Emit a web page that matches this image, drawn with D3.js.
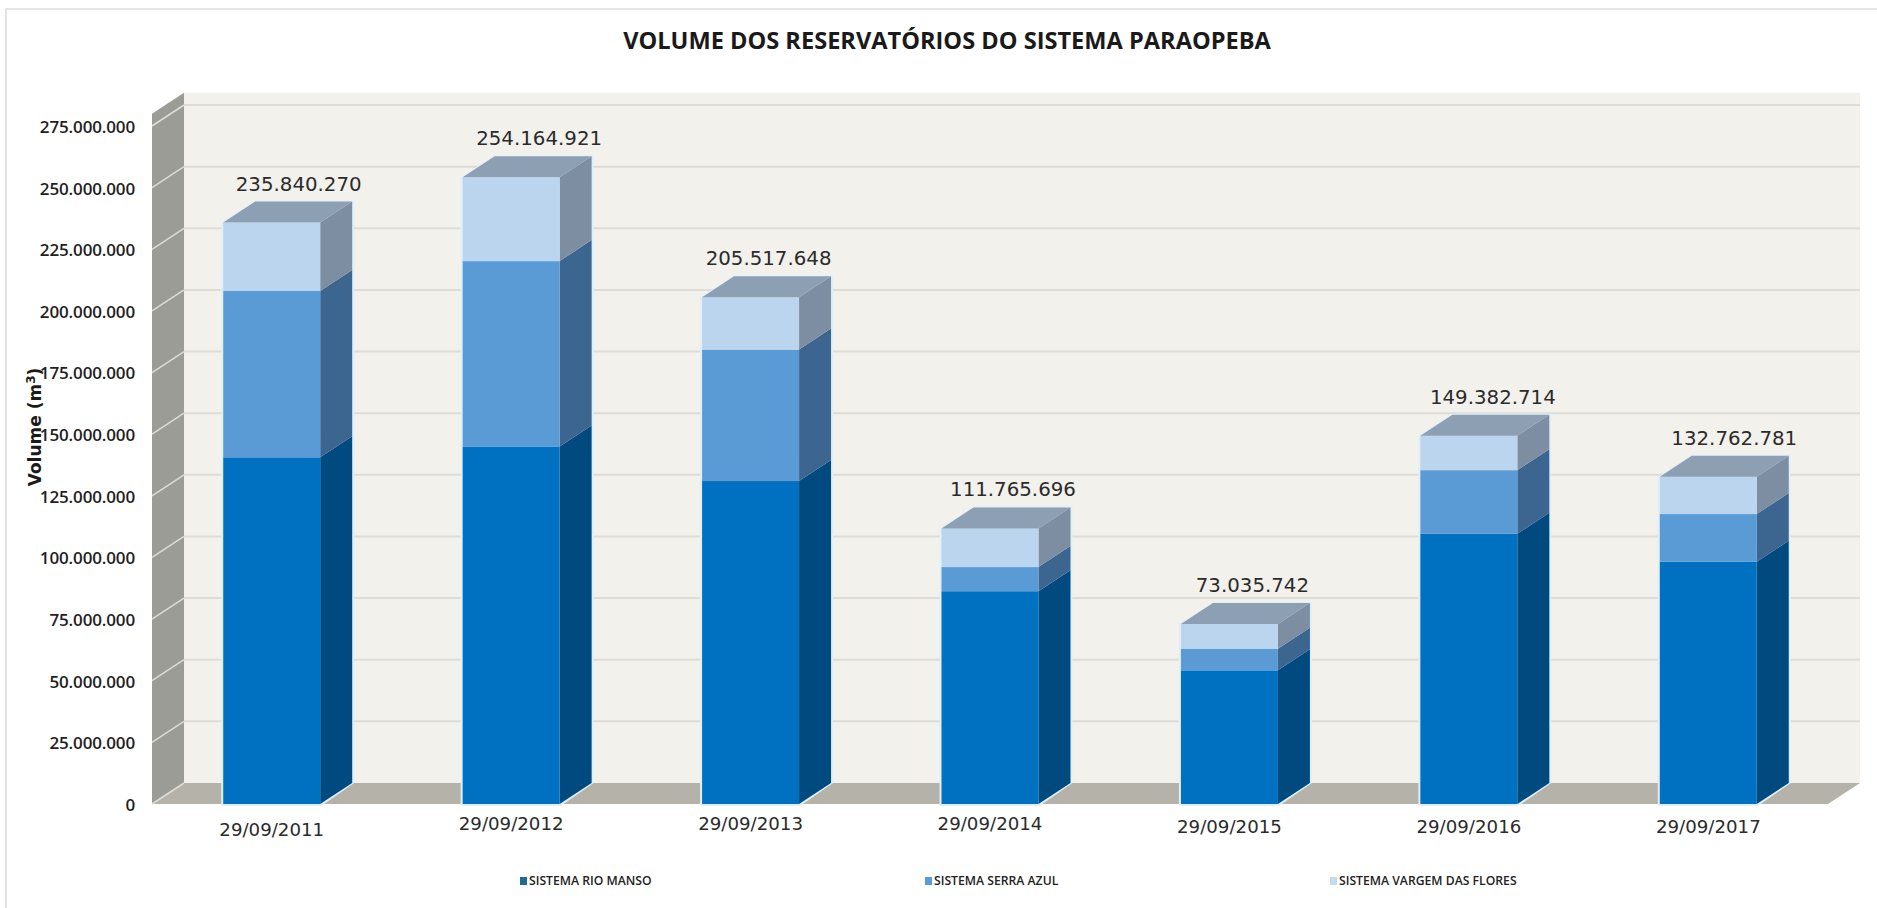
<!DOCTYPE html>
<html><head><meta charset="utf-8">
<script src="https://cdn.jsdelivr.net/npm/d3@7/dist/d3.min.js"></script>
<style>html,body{margin:0;padding:0;background:#fff;overflow:hidden}svg{display:block}</style>
</head><body><svg id="c" width="1877" height="908"></svg>
<script>
const titleText = "VOLUME DOS RESERVATÓRIOS DO SISTEMA PARAOPEBA";
const dates = ["29/09/2011","29/09/2012","29/09/2013","29/09/2014","29/09/2015","29/09/2016","29/09/2017"];
const seriesNames = ["SISTEMA RIO MANSO","SISTEMA SERRA AZUL","SISTEMA VARGEM DAS FLORES"];
const rioManso = [140600000,145000000,131000000,86300000,54200000,109600000,98300000];
const serraAzul = [67500000,75200000,53300000,9800000,8800000,25800000,19300000];
const vargemFlores = [27740270,33964921,21217648,15665696,10035742,13982714,15162781];
const totals = [235840270,254164921,205517648,111765696,73035742,149382714,132762781];
const tickValues = d3.range(0,275000001,25000000);

const frontColors = ["#0070c0","#5b9bd5","#bcd5ee"];
const sideColors  = ["#004a80","#3c668f","#7d8ea3"];
const topColor = "#8c9fb3";
const legendColors = ["#1f6a96","#5b9bd5","#c5dcef"];
const dx = 32, dy = -21;
const x0 = 152, x1 = 1828, yZero = 804, y275 = 126;

const svg = d3.select("#c");
const y = d3.scaleLinear().domain([0,275000000]).range([yZero,y275]);
const x = d3.scaleBand().domain(dates).range([x0,x1]).paddingInner(0.595).paddingOuter(0.2975);
const yMax = 280000000;
const fmt = d3.formatLocale({decimal:",",thousands:".",grouping:[3],currency:["",""]}).format(",d");
const poly = pts => "M"+pts.map(p=>p.join(",")).join("L")+"Z";

// frame
svg.append("path").attr("d","M6,908V9H1877").attr("fill","none").attr("stroke","#dcdcdc").attr("stroke-width",1.5);

// walls
svg.append("path").attr("d",poly([[x0+dx,y(yMax)+dy],[x1+dx,y(yMax)+dy],[x1+dx,yZero+dy],[x0+dx,yZero+dy]])).attr("fill","#f2f1ec");
svg.append("path").attr("d",poly([[x0,y(yMax)],[x0+dx,y(yMax)+dy],[x0+dx,yZero+dy],[x0,yZero]])).attr("fill","#9c9c96");
svg.append("path").attr("d",poly([[x0,yZero],[x0+dx,yZero+dy],[x1+dx,yZero+dy],[x1,yZero]])).attr("fill","#b5b2aa");

// gridlines
svg.append("g").selectAll("line").data(tickValues.slice(1)).join("line")
  .attr("x1",x0+dx).attr("x2",x1+dx).attr("y1",d=>y(d)+dy).attr("y2",d=>y(d)+dy)
  .attr("stroke","#dddcd6").attr("stroke-width",2);
svg.append("g").selectAll("line").data(tickValues).join("line")
  .attr("x1",x0).attr("x2",x0+dx).attr("y1",d=>y(d)).attr("y2",d=>y(d)+dy)
  .attr("stroke","#dcdcd8").attr("stroke-width",1.5);

// bars
const rows = dates.map((d,i)=>({date:d,a:rioManso[i],b:serraAzul[i],c:vargemFlores[i]}));
const stacked = d3.stack().keys(["a","b","c"])(rows);
const barG = svg.append("g");
rows.forEach((r,i)=>{
  const g = barG.append("g"), L = x(r.date), W = x.bandwidth(), R = L+W;
  const top = y(stacked[2][i][1]);
  g.append("path").attr("d",poly([[L-2,yZero+2],[L-2,top],[L+dx,top+dy-1],[R+dx+2,top+dy-1],[R+dx+2,yZero+dy],[R+1,yZero+2]])).attr("fill","#dff0fb");
  stacked.forEach((s,k)=>{
    const t = y(s[i][1]), b = y(s[i][0]);
    g.append("path").attr("d",poly([[R,b],[R+dx,b+dy],[R+dx,t+dy],[R,t]])).attr("fill",sideColors[k]);
    g.append("rect").attr("x",L).attr("y",t).attr("width",W).attr("height",b-t).attr("fill",frontColors[k]);
  });
  g.append("path").attr("d",poly([[L,top],[L+dx,top+dy],[R+dx,top+dy],[R,top]])).attr("fill",topColor);
});

// data labels
const labelShift = [11,12,2,7,7,8,10];
svg.append("g").selectAll("text").data(totals).join("text")
  .attr("x",(d,i)=>x(dates[i])+x.bandwidth()/2+dx/2+labelShift[i])
  .attr("y",(d,i)=>y(d)+dy-11)
  .attr("text-anchor","middle").attr("font-family","DejaVu Sans").attr("font-size",19.8).attr("fill","#2b2b2b")
  .text(d=>fmt(d));

// axes
const yAxis = d3.axisLeft(y).tickValues(tickValues).tickFormat(fmt).tickSize(0).tickPadding(17);
const ga = svg.append("g").attr("transform",`translate(${x0},1)`).call(yAxis);
ga.select(".domain").remove();
ga.selectAll("text").attr("font-family","Open Sans").attr("font-weight",600).attr("font-size",17).attr("fill","#1f1f1f").attr("letter-spacing","-0.15");
const labelNudge = [3,-3,-3,-3,0,0,0];
const xAxis = d3.axisBottom(x).tickSize(0).tickPadding(16);
const gx = svg.append("g").attr("transform",`translate(0,${yZero})`).call(xAxis);
gx.select(".domain").remove();
gx.selectAll("text").attr("font-family","DejaVu Sans").attr("font-size",18.2).attr("fill","#2b2b2b")
  .attr("dy",(d,i)=>labelNudge[i]+13);

// title
svg.append("text").attr("x",947).attr("y",49).attr("text-anchor","middle").attr("font-family","Open Sans").attr("font-weight",700).attr("font-size",23.6).attr("fill","#1a1a1a").text(titleText);

// y title
const yt = svg.append("text").attr("transform","translate(41,427) rotate(-90)").attr("text-anchor","middle").attr("font-family","DejaVu Sans").attr("font-weight",700).attr("font-size",17).attr("fill","#1a1a1a");
yt.append("tspan").text("Volume (m");
yt.append("tspan").attr("dy",-6).attr("font-size",12).text("3");
yt.append("tspan").attr("dy",6).text(")");

// legend
const legendX = d3.scalePoint().domain(seriesNames).range([520,1330]);
const lg = svg.append("g").selectAll("g").data(seriesNames).join("g").attr("transform",d=>`translate(${legendX(d)},881)`);
lg.append("rect").attr("x",0).attr("y",-4).attr("width",7).attr("height",8).attr("fill",(d,i)=>legendColors[i]);
lg.append("text").attr("x",9).attr("y",4).attr("font-family","Open Sans").attr("font-weight",600).attr("font-size",12.2).attr("fill","#222").text(d=>d);
</script></body></html>
